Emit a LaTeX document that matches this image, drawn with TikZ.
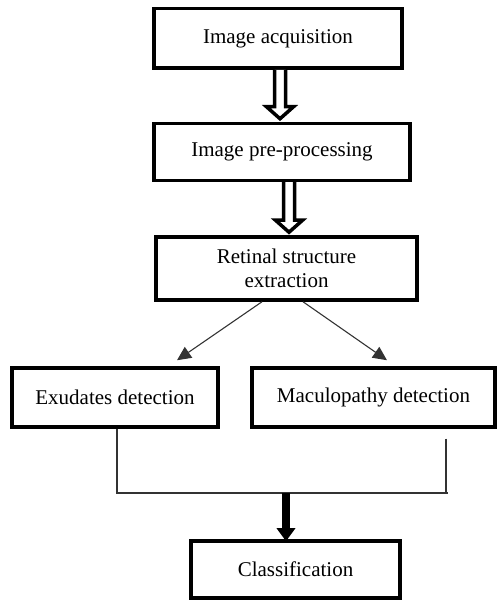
\documentclass[tikz,border=0pt]{standalone}
\usepackage{fontspec}
\setmainfont{Liberation Serif}
\usetikzlibrary{calc,arrows.meta}
\newcommand\hollowarrow[2]{%
  \draw[hollow] let \p1=(#1), \p2=(#2) in
    (\x1-5.5pt,\y1) -- (\x1-5.5pt,\y2+12pt) -- (\x1-13.5pt,\y2+12pt) -- (\x1,\y2)
    -- (\x1+13.5pt,\y2+12pt) -- (\x1+5.5pt,\y2+12pt) -- (\x1+5.5pt,\y1);}
\begin{document}
\begin{tikzpicture}[x=1pt,y=1pt,
  box/.style={draw, line width=3.5pt, rectangle, align=center,
    font=\fontsize{21}{24}\selectfont, inner sep=0pt},
  hollow/.style={draw, line width=3.5pt, fill=white, line join=miter},
  thinline/.style={draw=black!80, line width=1.1pt},
  tipped/.style={-{Triangle[length=14pt,width=13pt]}}]
\useasboundingbox (0,0) rectangle (497,602);
\node[box, minimum width=248pt, minimum height=59.5pt] (b1) at (278,563.5) {Image acquisition};
\node[box, minimum width=256pt, minimum height=57pt] (b2) at (282,450) {Image pre-processing};
\node[box, minimum width=261pt, minimum height=63pt] (b3) at (286.5,333.5) {Retinal structure\\extraction};
\node[box, minimum width=206pt, minimum height=59pt] (b4) at (115,204.5) {Exudates detection};
\node[box, minimum width=243pt, minimum height=59pt] (b5) at (373.5,204.5) {Maculopathy detection};
\node[box, minimum width=209pt, minimum height=57pt] (b6) at (295.5,32.5) {Classification};
% hollow double arrows
\coordinate (a1s) at ($(b1.south)+(2,0)$);
\coordinate (a1e) at ($(b2.north)+(-2,3)$);
\hollowarrow{a1s}{a1e}
\coordinate (a2s) at ($(b2.south)+(7,0)$);
\coordinate (a2e) at ($(b3.north)+(2.5,3)$);
\hollowarrow{a2s}{a2e}
% diagonal arrows
\draw[thinline,tipped] ($(b3.south)+(-24.5,0)$) -- ($(b4.north)+(62,6)$);
\draw[thinline,tipped] ($(b3.south)+(16.5,0)$) -- ($(b5.north)+(13.5,6)$);
% merge lines
\coordinate (r1) at ($(b5.south)+(72.5,-10)$);
\coordinate (jr) at (448,109);
\coordinate (jm) at (286,109);
\draw[thinline] ($(b4.south)+(2,0)$) |- (jr);
\draw[thinline] (r1) -- (r1 |- jr);
\draw[line width=8pt, -{Triangle[length=13pt,width=18pt]}] (jm) -- ($(b6.north)+(-9.5,-2)$);
\end{tikzpicture}
\end{document}
